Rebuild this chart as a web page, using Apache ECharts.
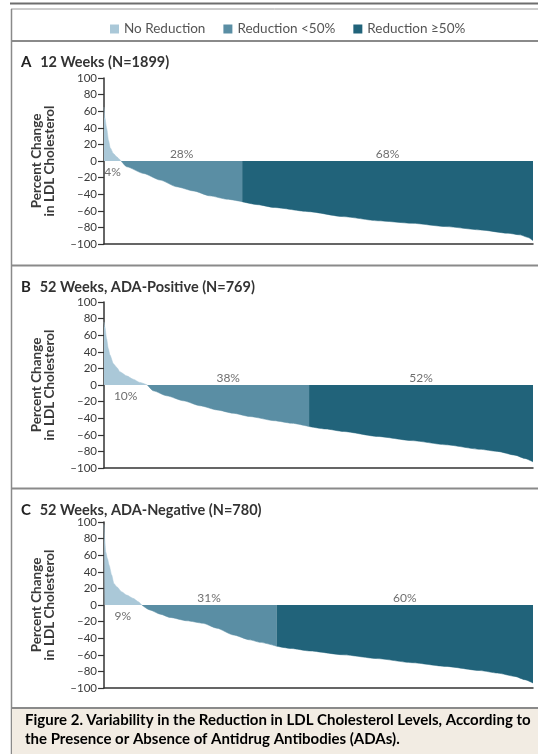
<!DOCTYPE html>
<html>
<head>
<meta charset="utf-8">
<script src="https://cdn.jsdelivr.net/npm/echarts@6/dist/echarts.min.js"></script>
<style>
  html, body { margin: 0; padding: 0; background: #fff; }
  #chart { width: 538px; height: 754px; }
</style>
</head>
<body>
<div id="chart"></div>
<script>
// percentile of patients (0-100) vs percent change
const groupNames = ['No Reduction', 'Reduction <50%', 'Reduction \u226550%']

const panelLetters = ['A', 'B', 'C']
const panelTitles = ['12 Weeks (N=1899)', '52 Weeks, ADA-Positive (N=769)', '52 Weeks, ADA-Negative (N=780)']

const noRedA = [[0, 65], [0.2, 52], [0.64, 39], [1.05, 25], [1.45, 16], [2.2, 9], [3.0, 5], [3.5, 2.5], [4.0, 0]]
const lowRedA = [[4.0, 0], [5.3, -7], [9.2, -15], [13.1, -23], [16.9, -31], [20.8, -36], [24.7, -42], [28.6, -46], [32.2, -49]]
const highRedA = [[32.2, -49], [35.8, -52.6], [39.7, -56], [47.7, -61], [55.8, -67], [63.8, -72], [71.8, -75], [79.7, -79], [87.7, -83], [94.1, -87], [97, -89], [98.8, -92], [100, -96]]

const noRedB = [[0, 76], [0.2, 70], [0.6, 56], [1.0, 44], [1.4, 36], [2.2, 25.5], [3.0, 21], [3.7, 16], [5.3, 11], [6.8, 7], [8.4, 3], [10.1, 0]]
const lowRedB = [[10.1, 0], [11.5, -7], [14.6, -13], [18.5, -19], [22.4, -25], [26.3, -30], [30.1, -34], [34, -38], [39.7, -43], [43.7, -46], [47.8, -50]]
const highRedB = [[47.8, -50], [51.7, -53], [55.8, -56], [63.8, -62], [71.8, -67], [79.7, -72], [87.7, -77.5], [91.7, -80], [95.8, -84.5], [98.1, -88.5], [100, -92.6]]

const noRedC = [[0, 97], [0.15, 80], [0.4, 64], [0.8, 56], [1.2, 48], [1.8, 36], [2.3, 26], [3, 22], [4.1, 16], [5.3, 12], [6.8, 8], [8, 4], [8.8, 0]]
const lowRedC = [[8.8, 0], [10.7, -6], [13.1, -11], [15.4, -15], [19.3, -19], [23.1, -22], [26.3, -28], [30.1, -36], [34, -42], [36.4, -45], [40.2, -49.6]]
const highRedC = [[40.2, -49.6], [43.7, -52.4], [47.8, -55.3], [55.8, -60], [63.8, -64.6], [71.8, -69.5], [79.7, -74], [87.7, -79], [91.7, -82], [95.8, -86], [98.1, -90], [100, -94]]

const shareA = ['4%', '28%', '68%']
const shareB = ['10%', '38%', '52%']
const shareC = ['9%', '31%', '60%']

const yTicks = [100, 80, 60, 40, 20, 0, -20, -40, -60, -80, -100]

const panels = [
  { groups: [noRedA, lowRedA, highRedA], shares: shareA },
  { groups: [noRedB, lowRedB, highRedB], shares: shareB },
  { groups: [noRedC, lowRedC, highRedC], shares: shareC }
]

const colors = ['#aac8d8', '#5a8ea4', '#21637a']
const gridTops = [78, 302, 522]
const gridH = 166
const titleTops = [48, 273, 496]
const font = 'Lato'

const chart = echarts.init(document.getElementById('chart'))

const series = []
panels.forEach((p, i) => {
  p.groups.forEach((g, k) => {
    series.push({
      name: groupNames[k],
      type: 'line',
      xAxisIndex: i,
      yAxisIndex: i,
      data: g,
      symbol: 'none',
      smooth: 0.2,
      smoothMonotone: 'x',
      silent: true,
      lineStyle: { width: 0.5, color: colors[k] },
      itemStyle: { color: colors[k] },
      areaStyle: { color: colors[k], opacity: 1 }
    })
  })
  // share labels: first one below zero in its segment, others above zero
  const labelData = p.groups.map((g, k) => {
    const mid = (g[0][0] + g[g.length - 1][0]) / 2
    return [mid, k === 0 ? -14 : 8, p.shares[k]]
  })
  series.push({
    name: 'share',
    type: 'scatter',
    xAxisIndex: i,
    yAxisIndex: i,
    data: labelData,
    symbolSize: 1,
    silent: true,
    itemStyle: { color: 'rgba(0,0,0,0)' },
    label: {
      show: true,
      position: 'inside',
      formatter: d => d.value[2],
      fontFamily: font,
      fontSize: 12,
      color: '#4a4a4a'
    },
    z: 5
  })
})

const frameLine = (x1, y1, x2, y2, w, c) => ({
  type: 'line',
  shape: { x1, y1, x2, y2 },
  style: { stroke: c, lineWidth: w },
  silent: true
})

const option = {
  animation: false,
  backgroundColor: '#fff',
  textStyle: { fontFamily: font },
  legend: {
    data: groupNames,
    left: 105,
    top: 17,
    icon: 'rect',
    itemWidth: 9,
    itemHeight: 9,
    itemGap: 18,
    selectedMode: false,
    textStyle: { fontFamily: font, fontSize: 13.5, color: '#555' }
  },
  title: panelLetters.map((l, i) => ({
    text: '{l|' + l + '}  {t|' + panelTitles[i] + '}',
    left: 16,
    top: titleTops[i],
    textStyle: {
      rich: {
        l: { fontFamily: font, fontSize: 15, fontWeight: 'bold', color: '#222' },
        t: { fontFamily: font, fontSize: 14.5, fontWeight: 'bold', color: '#333' }
      }
    }
  })),
  grid: gridTops.map(t => ({ left: 104, width: 429, top: t, height: gridH })),
  xAxis: gridTops.map((t, i) => ({
    type: 'value',
    gridIndex: i,
    min: 0,
    max: 100,
    axisLine: { show: true, onZero: false, lineStyle: { color: '#333', width: 1.5 } },
    axisTick: { show: false },
    axisLabel: { show: false },
    splitLine: { show: false }
  })),
  yAxis: gridTops.map((t, i) => ({
    type: 'value',
    gridIndex: i,
    min: -100,
    max: 100,
    interval: 20,
    name: 'Percent Change\nin LDL Cholesterol',
    nameLocation: 'middle',
    nameRotate: 90,
    nameGap: 48,
    nameTextStyle: { fontFamily: font, fontSize: 13.5, lineHeight: 13, fontWeight: 'bold', color: '#3a3a3a' },
    axisLine: { show: true, lineStyle: { color: '#333', width: 1.5 } },
    axisTick: { show: true, length: 6, lineStyle: { color: '#333', width: 1.2 } },
    axisLabel: {
      margin: 7,
      fontFamily: font,
      fontSize: 11.5,
      color: '#3a3a3a',
      formatter: v => (yTicks.includes(v) ? String(v).replace('-', '\u2013') : '')
    },
    splitLine: { show: false }
  })),
  graphic: [
    frameLine(10, 3.5, 538, 3.5, 2, '#6e6e6e'),
    frameLine(11, 9, 538, 9, 1, '#9a9a9a'),
    frameLine(11.5, 9, 11.5, 754, 1.5, '#8a8a8a'),
    frameLine(11, 41, 538, 41, 2, '#8a8a8a'),
    frameLine(11, 265.5, 538, 265.5, 2, '#8a8a8a'),
    frameLine(11, 488.5, 538, 488.5, 2, '#8a8a8a'),
    {
      type: 'rect',
      shape: { x: 12, y: 709, width: 526, height: 45 },
      style: { fill: '#f2ece3' },
      silent: true
    },
    frameLine(11, 708, 538, 708, 2, '#8a8a8a'),
    {
      type: 'text',
      left: 25,
      top: 713,
      silent: true,
      style: {
        text: '{r|Figure 2.} {b|Variability in the Reduction in LDL Cholesterol Levels, According to}\n{b|the Presence or Absence of Antidrug Antibodies (ADAs).}',
        rich: {
          r: { fontFamily: font, fontSize: 15, fontWeight: 'bold', color: '#c4243c', lineHeight: 19 },
          b: { fontFamily: font, fontSize: 15, fontWeight: 'bold', color: '#3b3b3b', lineHeight: 19 }
        }
      }
    }
  ],
  series
}

chart.setOption(option)
</script>
</body>
</html>
